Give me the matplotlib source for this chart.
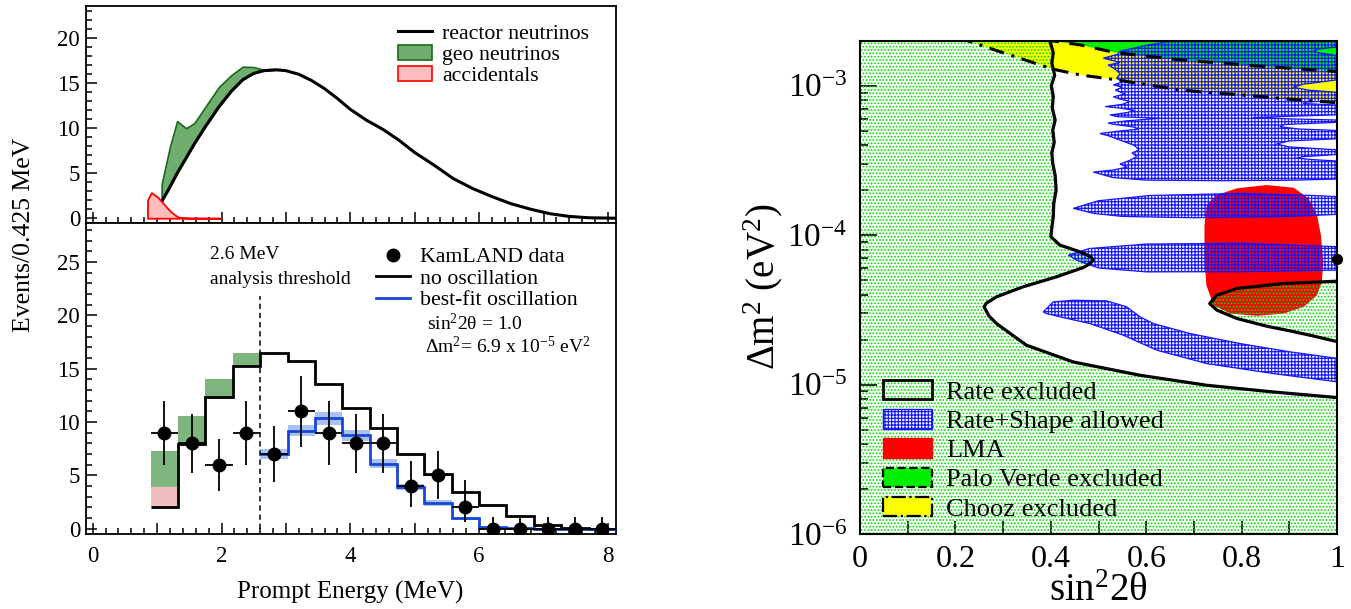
import numpy as np
import matplotlib.pyplot as plt
from matplotlib.patches import Polygon, Patch
from matplotlib.lines import Line2D
from matplotlib.ticker import MultipleLocator, FuncFormatter, LogLocator, NullFormatter

plt.rcParams['font.family'] = ['Liberation Serif', 'DejaVu Serif']
plt.rcParams['mathtext.fontset'] = 'custom'
plt.rcParams['mathtext.rm'] = 'Liberation Serif'
plt.rcParams['mathtext.it'] = 'Liberation Serif:italic'
plt.rcParams['mathtext.bf'] = 'Liberation Serif:bold'
plt.rcParams['axes.linewidth'] = 1.3
plt.rcParams['hatch.linewidth'] = 0.85

# ---- expected prompt spectrum (events / 0.425 MeV), top panel
spec_energy = [1.07, 1.2, 1.31, 1.45, 1.58, 1.75, 1.96, 2.15, 2.33, 2.5, 2.65, 2.84,
               3.0, 3.2, 3.4, 3.6, 3.8, 4.0, 4.25, 4.5, 4.75, 5.0, 5.3, 5.6, 5.9,
               6.2, 6.5, 6.8, 7.1, 7.4, 7.7, 8.1]
reactor_curve = [1.85, 3.5, 5.0, 6.7, 8.3, 10.2, 12.4, 14.1, 15.4, 16.1, 16.4, 16.5,
                 16.4, 16.0, 15.3, 14.4, 13.3, 12.1, 10.9, 9.9, 8.7, 7.3, 5.9, 4.4, 3.3,
                 2.4, 1.6, 1.0, 0.5, 0.2, 0.05, 0.0]
geo_curve_top = [3.8, 8.0, 10.8, 10.0, 10.6, 12.4, 14.6, 15.9, 16.85, 16.8, 16.5, 16.5]
acc_energy = [0.85, 0.91, 1.0, 1.07, 1.15, 1.21, 1.28, 1.34, 1.5, 1.98]
acc_curve = [2.0, 2.85, 2.4, 1.85, 1.2, 0.74, 0.35, 0.1, 0.02, 0.0]

# ---- binned spectrum, bottom panel
bin_edges = [0.9, 1.325, 1.75, 2.175, 2.6, 3.025, 3.45, 3.875, 4.3, 4.725, 5.15,
             5.575, 6.0, 6.425, 6.85, 7.275, 7.7, 8.125]
data_counts = [9, 8, 6, 9, 7, 11, 9, 8, 8, 4, 5, 2, 0, 0, 0, 0, 0]
data_low = [6.0, 5.2, 3.55, 6.0, 4.4, 7.7, 6.0, 5.2, 5.2, 2.0, 2.76, 0.6, 0, 0, 0, 0, 0]
data_high = [12.0, 10.8, 8.45, 12.0, 9.6, 14.3, 12.0, 10.8, 10.8, 6.3, 7.24, 4.6,
             1.1, 1.1, 1.1, 1.1, 1.1]
no_osc = [2.0, 7.9, 12.35, 15.27, 16.5, 15.7, 13.6, 11.3, 9.4, 7.0, 5.1, 3.45, 2.25,
          1.18, 0.3, 0.05, 0.0]
acc_bins = [1.9, 0.0, 0.0, 0.0]
geo_bins = [3.4, 2.65, 1.65, 1.23]
best_fit = [7.0, 9.2, 10.35, 8.75, 6.1, 3.9, 2.4, 0.96, 0.15, 0.03, 0.0, 0.0, 0.0]
best_fit_err = [0.45, 0.55, 0.6, 0.55, 0.4, 0.3, 0.28, 0.15, 0.05, 0.02, 0.0, 0.0, 0.0]
threshold = 2.6
best_sin2 = 1.0
best_dm2 = 6.9e-5

# ---- oscillation plane: contours as (sin^2 2theta, log10 dm^2)
rate_edge = [(0.398, -2.60), (0.398, -2.699), (0.405, -2.78), (0.402, -2.85), (0.408, -2.93),
             (0.401, -3.0), (0.405, -3.073), (0.403, -3.15), (0.409, -3.23), (0.404, -3.297),
             (0.407, -3.38), (0.402, -3.45), (0.404, -3.52), (0.409, -3.60), (0.411, -3.699),
             (0.406, -3.79), (0.405, -3.878), (0.402, -3.95), (0.400, -4.011), (0.419, -4.067),
             (0.461, -4.112), (0.484, -4.145), (0.489, -4.167), (0.480, -4.195), (0.468, -4.217),
             (0.412, -4.279), (0.342, -4.346), (0.286, -4.413), (0.265, -4.455), (0.260, -4.48),
             (0.270, -4.54), (0.286, -4.592), (0.349, -4.737), (0.447, -4.849), (0.587, -4.938),
             (0.727, -5.005), (0.867, -5.05), (1.003, -5.088)]
rate_tongue = [(1.003, -4.308), (0.887, -4.324), (0.790, -4.357), (0.748, -4.402),
               (0.733, -4.458), (0.748, -4.502), (0.790, -4.558), (0.853, -4.61),
               (0.90, -4.64), (0.95, -4.675), (1.003, -4.715)]
shape_upper = [(1.003, -3.625), (0.90, -3.633), (0.75, -3.636), (0.60, -3.632), (0.53, -3.615),
               (0.489, -3.578), (0.53, -3.565), (0.56, -3.545), (0.545, -3.525), (0.565, -3.50),
               (0.58, -3.475), (0.57, -3.45), (0.585, -3.43), (0.575, -3.40), (0.55, -3.37),
               (0.52, -3.335), (0.503, -3.32), (0.54, -3.305), (0.585, -3.29), (0.57, -3.275),
               (0.53, -3.258), (0.52, -3.25), (0.56, -3.235), (0.63, -3.218), (0.54, -3.208),
               (0.524, -3.196), (0.56, -3.18), (0.575, -3.165), (0.545, -3.15), (0.514, -3.14),
               (0.55, -3.125), (0.565, -3.105), (0.545, -3.09), (0.531, -3.075), (0.555, -3.055),
               (0.535, -3.03), (0.55, -3.01), (0.531, -2.995), (0.55, -2.975), (0.538, -2.95),
               (0.545, -2.92), (0.535, -2.89), (0.52, -2.862), (0.545, -2.845), (0.51, -2.816),
               (0.54, -2.79), (0.545, -2.77), (0.60, -2.73), (0.657, -2.699), (0.66, -2.69),
               (1.003, -2.69), (1.003, -2.74), (0.96, -2.755), (0.95, -2.77), (0.97, -2.785),
               (1.003, -2.80), (1.003, -2.96), (0.93, -2.99), (0.908, -3.01), (0.94, -3.03),
               (1.003, -3.045), (1.003, -3.10), (0.935, -3.11), (0.929, -3.12), (1.003, -3.13),
               (1.003, -3.195), (0.90, -3.205), (0.824, -3.214), (0.90, -3.222), (1.003, -3.23),
               (1.003, -3.245), (0.89, -3.26), (0.88, -3.275), (0.92, -3.29), (1.003, -3.30),
               (1.003, -3.355), (0.90, -3.37), (0.873, -3.39), (0.90, -3.41), (1.003, -3.43),
               (1.003, -3.46), (0.93, -3.475), (0.915, -3.485), (0.95, -3.495), (1.003, -3.505)]
shape_band1 = [(0.447, -3.821), (0.50, -3.77), (0.608, -3.735), (0.80, -3.721), (0.95, -3.735),
               (1.003, -3.743), (1.003, -3.861), (0.90, -3.875), (0.70, -3.884), (0.55, -3.875),
               (0.49, -3.855)]
shape_band2 = [(0.437, -4.134), (0.48, -4.09), (0.60, -4.06), (0.80, -4.055), (1.003, -4.078),
               (1.003, -4.234), (0.80, -4.245), (0.60, -4.246), (0.50, -4.22), (0.455, -4.17)]
shape_lower = [(0.384, -4.514), (0.405, -4.447), (0.447, -4.436), (0.517, -4.440), (0.559, -4.480),
               (0.587, -4.547), (0.615, -4.592), (0.692, -4.659), (0.797, -4.726), (0.901, -4.781),
               (1.003, -4.826), (1.003, -4.983), (0.867, -4.927), (0.727, -4.860), (0.622, -4.770),
               (0.552, -4.670), (0.482, -4.592), (0.419, -4.547), (0.391, -4.525)]
lma_edge = [(0.727, -3.799), (0.748, -3.732), (0.790, -3.687), (0.853, -3.665), (0.909, -3.683),
            (0.940, -3.754), (0.958, -3.866), (0.966, -4.000), (0.971, -4.179), (0.968, -4.313),
            (0.958, -4.402), (0.930, -4.480), (0.888, -4.525), (0.832, -4.540), (0.776, -4.525),
            (0.741, -4.469), (0.726, -4.335), (0.722, -4.156), (0.722, -3.933)]
paloverde_edge = [(0.385, -2.69), (0.40, -2.699), (0.461, -2.727), (0.537, -2.78), (0.671, -2.827),
                  (0.845, -2.871), (0.95, -2.894), (1.003, -2.906)]
chooz_edge = [(0.205, -2.675), (0.225, -2.699), (0.30, -2.78), (0.405, -2.89), (0.461, -2.928),
              (0.54, -2.962), (0.671, -3.029), (0.71, -3.04), (0.85, -3.075), (0.88, -3.085),
              (1.003, -3.115)]

GREEN_DOT = '#00dc00'
BLUE = '#1414ff'
DOTS = '.....'
GRID = '+++++'


def to_xy(pts):
    a = np.array(pts, dtype=float)
    return np.column_stack([a[:, 0], 10.0 ** a[:, 1]])


def hatch_width(patch, w):
    # per-artist hatch width where this matplotlib supports it
    if hasattr(patch, 'set_hatch_linewidth'):
        patch.set_hatch_linewidth(w)
    return patch


fig = plt.figure(figsize=(13.51, 6.09), dpi=100)
ax_top = fig.add_axes([0.0634, 0.6343, 0.3923, 0.3560])
ax_bot = fig.add_axes([0.0634, 0.1232, 0.3923, 0.5111])
ax_osc = fig.add_axes([0.6366, 0.1232, 0.3531, 0.8100])

# ---------------- top: spectrum shapes ----------------
n_geo = len(geo_curve_top)
ax_top.fill_between(spec_energy[:n_geo], reactor_curve[:n_geo], geo_curve_top,
                    facecolor='#6fae6f', edgecolor='#1b6b1b', lw=1.2, zorder=2)
ax_top.plot(spec_energy, reactor_curve, color='k', lw=2.2, zorder=3)
ax_top.fill_between(acc_energy, 0, acc_curve, facecolor='#ffbcbc', edgecolor='red',
                    lw=1.3, zorder=4)
ax_top.set_xlim(-0.11, 8.12)
ax_top.set_ylim(-0.5, 23.6)

top_handles = [Line2D([], [], color='k', lw=2.2),
               Patch(facecolor='#6fae6f', edgecolor='#1b6b1b', lw=1.2),
               Patch(facecolor='#ffbcbc', edgecolor='red', lw=1.2)]
ax_top.legend(top_handles, ['reactor neutrinos', 'geo neutrinos', 'accidentals'],
              loc='upper left', bbox_to_anchor=(0.59, 0.92), frameon=False,
              fontsize=15.7, handlelength=1.55, handletextpad=0.45, labelspacing=0.05,
              borderpad=0, borderaxespad=0)

# ---------------- bottom: binned spectrum ----------------
edges = np.array(bin_edges)
counts = np.array(data_counts, dtype=float)
centers = 0.5 * (edges[:-1] + edges[1:])
half_width = 0.5 * np.diff(edges)
no_osc_arr = np.array(no_osc)
low_edges = edges[:len(acc_bins) + 1]
acc_top = no_osc_arr[:len(acc_bins)] + np.array(acc_bins)
geo_top = acc_top + np.array(geo_bins)
fit_edges = edges[edges >= threshold - 1e-9]
fit = np.array(best_fit)
fit_err = np.array(best_fit_err)

ax_bot.stairs(acc_top, low_edges, baseline=no_osc_arr[:len(acc_bins)], fill=True,
              color='#f0bebe', lw=0, zorder=1)
ax_bot.stairs(geo_top, low_edges, baseline=acc_top, fill=True, color='#7fb57f',
              lw=0, zorder=1)
ax_bot.stairs(fit + fit_err, fit_edges, baseline=fit - fit_err, fill=True,
              color='#a9c3ee', lw=0, zorder=2)
ax_bot.stairs(no_osc_arr, edges, baseline=None, color='k', lw=2, zorder=3)
ax_bot.stairs(fit, fit_edges, baseline=None, color='#1846d6', lw=2, zorder=4)
ax_bot.vlines(threshold, 0, 21.8, colors='k', lw=1.1, linestyles=(0, (3.5, 2.5)), zorder=3)
ax_bot.errorbar(centers, counts, yerr=[counts - np.array(data_low), np.array(data_high) - counts],
                xerr=half_width, fmt='o', color='k', ms=9, elinewidth=1.3, capsize=0,
                zorder=6)
ax_bot.set_xlim(-0.11, 8.12)
ax_bot.set_ylim(-0.5, 28.7)

ax_bot.text(1.82, 25.25, '2.6 MeV', fontsize=14)
ax_bot.text(1.82, 22.95, 'analysis threshold', fontsize=14)
ax_bot.text(5.19, 18.6, 'sin$^2$2θ = %.1f' % best_sin2, fontsize=14)
mant, expo = ('%.1e' % best_dm2).split('e')
ax_bot.text(5.16, 16.45, 'Δm$^2$= %s x 10$^{%d}$ eV$^2$' % (mant, int(expo)), fontsize=14)

bot_handles = [Line2D([], [], color='k', marker='o', ms=9, ls='none'),
               Line2D([], [], color='k', lw=2),
               Line2D([], [], color='#1846d6', lw=2)]
ax_bot.legend(bot_handles, ['KamLAND data', 'no oscillation', 'best-fit oscillation'],
              loc='upper left', bbox_to_anchor=(0.548, 0.922), frameon=False,
              fontsize=15.7, handlelength=1.55, handletextpad=0.45, labelspacing=0.06,
              borderpad=0, borderaxespad=0)

for ax in (ax_top, ax_bot):
    ax.xaxis.set_major_locator(MultipleLocator(1))
    ax.xaxis.set_minor_locator(MultipleLocator(0.2))
    ax.yaxis.set_major_locator(MultipleLocator(5))
    ax.yaxis.set_minor_locator(MultipleLocator(1))
    ax.tick_params(which='both', direction='in', top=False, right=False, width=1.1,
                   labelsize=16.5)
    ax.tick_params(which='major', length=8)
    ax.tick_params(which='minor', length=4.5)
    ax.tick_params(axis='y', pad=4)
    ax.tick_params(axis='x', pad=9)
ax_top.tick_params(axis='x', labelbottom=False)
ax_bot.xaxis.set_major_formatter(FuncFormatter(
    lambda v, p: '%d' % round(v) if round(v) % 2 == 0 else ''))

fig.text(0.018, 0.615, 'Events/0.425 MeV', rotation=90, ha='center', va='center',
         fontsize=18.5)
fig.text(0.259, 0.0176, 'Prompt Energy (MeV)', ha='center', va='baseline', fontsize=18)

# ---------------- right: oscillation parameter plane ----------------
top_cap = [(1.003, -2.6), (0.0, -2.6)]
ax_osc.add_patch(Polygon(to_xy(chooz_edge + top_cap), closed=True, facecolor='#ffff00',
                         lw=0, zorder=1))
ax_osc.add_patch(Polygon(to_xy(paloverde_edge + top_cap), closed=True, facecolor='#00ee00',
                         lw=0, zorder=2))
ax_osc.add_patch(Polygon(to_xy(lma_edge), closed=True, facecolor='#ff0000', lw=0, zorder=3))

excluded_main = rate_edge + [(1.003, -6.1), (-0.01, -6.1), (-0.01, -2.6)]
for pts in (excluded_main, rate_tongue):
    p = Polygon(to_xy(pts), closed=True, facecolor='none', edgecolor=GREEN_DOT, lw=0,
                hatch=DOTS, zorder=4)
    ax_osc.add_patch(hatch_width(p, 0.85))

for pts in (shape_upper, shape_band1, shape_band2, shape_lower):
    p = Polygon(to_xy(pts), closed=True, facecolor='none', edgecolor=BLUE, lw=0.9,
                hatch=GRID, zorder=5)
    ax_osc.add_patch(hatch_width(p, 0.85))

pv = to_xy(paloverde_edge)
ch = to_xy(chooz_edge)
ax_osc.plot(pv[:, 0], pv[:, 1], color='k', lw=2.2, ls=(0, (5, 3.5)), zorder=6)
ax_osc.plot(ch[:, 0], ch[:, 1], color='k', lw=2.2, ls=(0, (5, 2.5, 1, 2.5)), zorder=6)
r1 = to_xy(rate_edge)
r2 = to_xy(rate_tongue)
ax_osc.plot(r1[:, 0], r1[:, 1], color='k', lw=2.3, zorder=7)
ax_osc.plot(r2[:, 0], r2[:, 1], color='k', lw=2.3, zorder=7)
ax_osc.plot(best_sin2, best_dm2, 'o', color='k', ms=7, clip_on=False, zorder=10)

ax_osc.set_yscale('log')
ax_osc.set_xlim(0, 1)
ax_osc.set_ylim(1e-6, 2e-3)
ax_osc.xaxis.set_major_locator(MultipleLocator(0.1))
ax_osc.xaxis.set_major_formatter(FuncFormatter(
    lambda v, p: '' if round(v * 10) % 2 else '%g' % (round(v * 10) / 10)))
ax_osc.yaxis.set_major_locator(LogLocator(base=10, numticks=10))
ax_osc.yaxis.set_minor_locator(LogLocator(base=10, subs=np.arange(2, 10), numticks=10))
ax_osc.yaxis.set_minor_formatter(NullFormatter())
ax_osc.tick_params(which='both', direction='in', top=False, right=False, width=1.2)
ax_osc.tick_params(axis='x', length=9.5, labelsize=23, pad=8)
ax_osc.tick_params(axis='y', which='major', length=12, labelsize=24, pad=9)
ax_osc.tick_params(axis='y', which='minor', length=6)
for s in ax_osc.spines.values():
    s.set_linewidth(1.5)
    s.set_zorder(8)

osc_handles = [(hatch_width(Patch(facecolor='white', edgecolor=GREEN_DOT, lw=0, hatch=DOTS), 0.85),
                Patch(facecolor='none', edgecolor='k', lw=2)),
               hatch_width(Patch(facecolor='white', edgecolor=BLUE, lw=1, hatch=GRID), 0.85),
               Patch(facecolor='#ff0000', edgecolor='#ff0000'),
               Patch(facecolor='#00ee00', edgecolor='k', lw=1.6, ls='--'),
               Patch(facecolor='#ffff00', edgecolor='k', lw=1.6, ls='-.')]
ax_osc.legend(osc_handles, ['Rate excluded', 'Rate+Shape allowed', 'LMA',
                            'Palo Verde excluded', 'Chooz excluded'],
              loc='upper left', bbox_to_anchor=(0.048, 0.312), frameon=False,
              fontsize=19, handlelength=1.86, handleheight=0.75, handletextpad=0.53,
              labelspacing=0.2, borderpad=0, borderaxespad=0)

fig.text(0.8127, 0.0135, 'sin$^2$2θ', ha='center', va='baseline', fontsize=28)
fig.text(0.565, 0.5287, 'Δm$^2$ (eV$^2$)', rotation=90, ha='center', va='center',
         fontsize=28)

fig.savefig('out.png', dpi=100)
